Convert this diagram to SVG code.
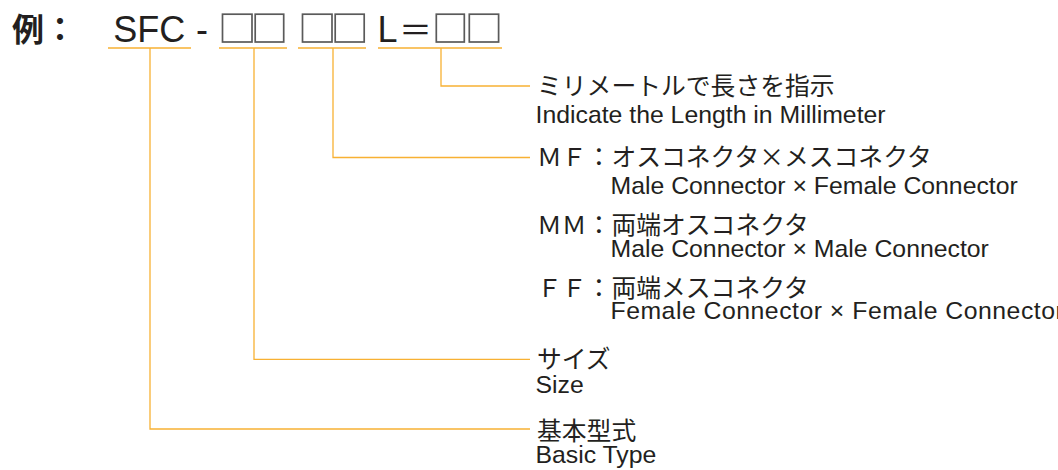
<svg xmlns="http://www.w3.org/2000/svg" width="1058" height="470" viewBox="0 0 1058 470">
<style>
.bg{fill:#ffffff}
.ln{fill:none;stroke:#F8B133;stroke-width:1.3}
.lat{font-family:"Liberation Sans",Arial,sans-serif;fill:#231f20}
.jp{font-family:"Noto Sans CJK JP","Noto Sans CJK SC",sans-serif;fill:#231f20}
.big{font-size:36px}
.bx{fill:none;stroke:#5a5a5a;stroke-width:1.7}
.t{font-size:24.8px}
</style>
<rect class="bg" x="0" y="0" width="1058" height="470"/>
<g id="connectors">
<path class="ln" d="M108,48 H191 M219,48 H287 M298,48 H366 M378,48 H502"/>
<path class="ln" d="M150,48 V429 H530"/>
<path class="ln" d="M254,48 V359.3 H530"/>
<path class="ln" d="M333,48 V157.5 H530"/>
<path class="ln" d="M441,48 V86 H530"/>
</g>
<g id="example-label"><text class="jp" x="12" y="41" font-size="32" font-weight="bold">例：</text></g>
<g id="seg-sfc"><text class="lat big" x="113.3" y="41.5">SFC</text></g>
<g id="seg-dash"><text class="lat big" x="196" y="41.5">-</text></g>
<g id="seg-size">
<rect class="bx" x="222.5" y="14.2" width="29.5" height="27.8"/>
<rect class="bx" x="255.2" y="14.2" width="28.5" height="27.8"/>
</g>
<g id="seg-connector">
<rect class="bx" x="302.5" y="14.2" width="29.5" height="27.8"/>
<rect class="bx" x="335.2" y="14.2" width="29" height="27.8"/>
</g>
<g id="seg-length">
<text class="lat big" x="377.4" y="41.5">L</text>
<text class="jp" x="399" y="41.5" font-size="33">＝</text>
<rect class="bx" x="436.3" y="14.2" width="28" height="27.8"/>
<rect class="bx" x="469.3" y="14.2" width="29.3" height="27.8"/>
</g>
<g id="label-length">
<text class="jp t" x="537" y="95">ミリメートルで長さを指示</text>
<text class="lat t" x="535.5" y="123">Indicate the Length in Millimeter</text>
</g>
<g id="label-mf">
<text class="jp t" x="537" y="166">ＭＦ：オスコネクタ×メスコネクタ</text>
<text class="lat t" x="610.5" y="194">Male Connector × Female Connector</text>
</g>
<g id="label-mm">
<text class="jp t" x="537" y="233.5">ＭＭ：両端オスコネクタ</text>
<text class="lat t" x="610.5" y="256.5">Male Connector × Male Connector</text>
</g>
<g id="label-ff">
<text class="jp t" x="537" y="297">ＦＦ：両端メスコネクタ</text>
<text class="lat t" x="610.5" y="318.5" letter-spacing="0.5">Female Connector × Female Connector</text>
</g>
<g id="label-size">
<text class="jp t" x="537" y="368">サイズ</text>
<text class="lat t" x="535.5" y="393">Size</text>
</g>
<g id="label-basic">
<text class="jp t" x="537" y="440">基本型式</text>
<text class="lat t" x="535.5" y="463">Basic Type</text>
</g>
</svg>
